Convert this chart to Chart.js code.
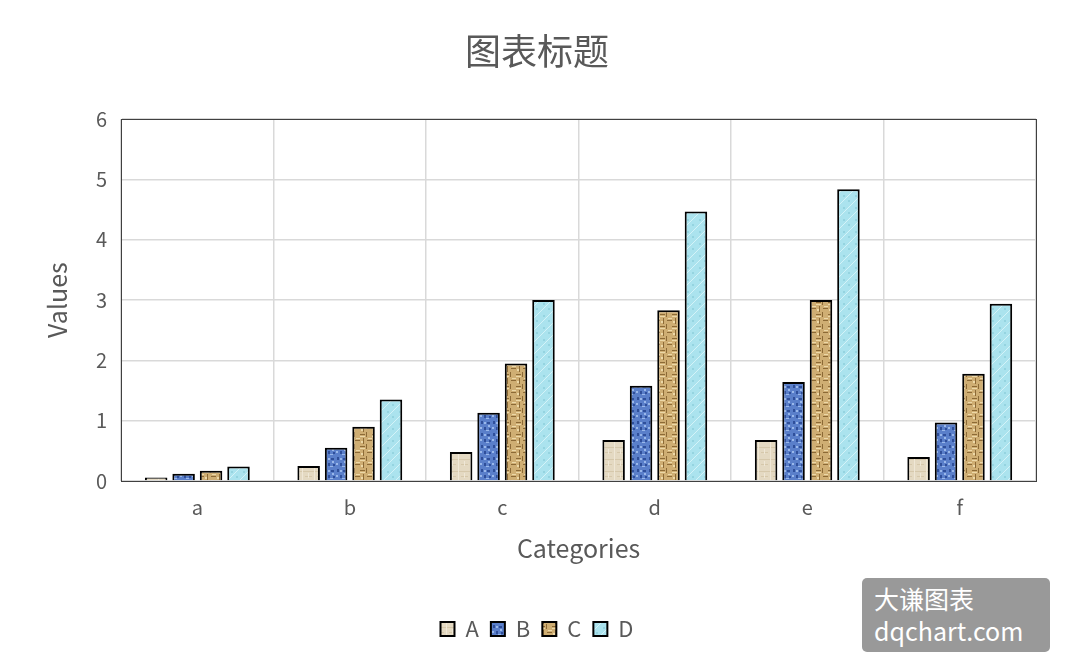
<!DOCTYPE html>
<html>
<head>
<meta charset="utf-8">
<script src="https://cdn.jsdelivr.net/npm/chart.js@4/dist/chart.umd.min.js"></script>
<style>
  body { margin: 0; background: #fff; }
  #wrap { position: relative; width: 1069px; height: 672px; }
  #mark {
    position: absolute; left: 862px; top: 578px; width: 188px; height: 74px;
    background: #999; border-radius: 5px; color: #fff;
    font-family: "Noto Sans CJK SC", "Noto Sans", sans-serif; font-size: 25px; line-height: 32px;
    padding: 4px 0 0 12px; box-sizing: border-box;
  }
</style>
</head>
<body>
<div id="wrap">
  <canvas id="chart" width="1069" height="672"></canvas>
  <div id="mark">大谦图表<br>dqchart.com</div>
</div>
<script>
// chart data
const categories = ['a', 'b', 'c', 'd', 'e', 'f']
const seriesNames = ['A', 'B', 'C', 'D']
const valuesA = [0.06, 0.25, 0.48, 0.68, 0.68, 0.40]
const valuesB = [0.12, 0.55, 1.13, 1.58, 1.64, 0.97]
const valuesC = [0.17, 0.90, 1.95, 2.83, 3.00, 1.78]
const valuesD = [0.24, 1.35, 3.00, 4.47, 4.84, 2.94]
const yTicks = [0, 1, 2, 3, 4, 5, 6]

// little texture tiles so the bars look like the picture fills
function makePattern(base, draw) {
  const c = document.createElement('canvas')
  c.width = 12; c.height = 12
  const g = c.getContext('2d')
  g.fillStyle = base
  g.fillRect(0, 0, 12, 12)
  draw(g)
  return g.createPattern(c, 'repeat')
}

const fillA = makePattern('#e4d9c2', g => {
  g.fillStyle = '#d6c8ab'
  g.fillRect(0, 3, 12, 1); g.fillRect(5, 8, 7, 1)
  g.fillStyle = '#efe7d6'
  g.fillRect(2, 0, 1, 12); g.fillRect(8, 5, 1, 5)
})
const fillB = makePattern('#5a7fca', g => {
  g.fillStyle = '#2f4f9a'
  g.fillRect(1, 1, 2, 3); g.fillRect(7, 2, 3, 2); g.fillRect(4, 7, 2, 3); g.fillRect(9, 8, 2, 2)
  g.fillStyle = '#9ab8ea'
  g.fillRect(4, 2, 2, 2); g.fillRect(0, 7, 2, 2); g.fillRect(8, 5, 2, 2); g.fillRect(6, 10, 3, 1)
})
const fillC = makePattern('#cfae73', g => {
  g.fillStyle = '#8c6a36'
  g.fillRect(0, 2, 5, 1); g.fillRect(6, 0, 1, 5); g.fillRect(7, 8, 5, 1); g.fillRect(3, 6, 1, 6)
  g.fillStyle = '#ecd8a8'
  g.fillRect(0, 4, 5, 1); g.fillRect(8, 6, 4, 1); g.fillRect(1, 9, 2, 2)
})
const fillD = makePattern('#abe3ee', g => {
  g.strokeStyle = '#d4f3f8'
  g.lineWidth = 1
  g.beginPath(); g.moveTo(0, 12); g.lineTo(12, 0); g.stroke()
  g.fillStyle = '#95d4e0'
  g.fillRect(3, 3, 2, 2); g.fillRect(8, 8, 2, 2)
})

const fills = [fillA, fillB, fillC, fillD]
const seriesValues = [valuesA, valuesB, valuesC, valuesD]

// frame around the plot area (top + right sides too)
const plotFrame = {
  id: 'plotFrame',
  afterDraw(chart) {
    const a = chart.chartArea, ctx = chart.ctx
    ctx.save()
    ctx.strokeStyle = '#404040'
    ctx.lineWidth = 1
    ctx.strokeRect(Math.round(a.left) + 0.5, Math.round(a.top) + 0.5, Math.round(a.right - a.left), Math.round(a.bottom - a.top))
    ctx.restore()
  }
}

const grey = '#595959'
const font = '"Noto Sans CJK SC", "Noto Sans", sans-serif'

new Chart(document.getElementById('chart'), {
  type: 'bar',
  data: {
    labels: categories,
    datasets: seriesNames.map((name, i) => ({
      label: name,
      data: seriesValues[i],
      backgroundColor: fills[i],
      borderColor: '#000',
      borderWidth: 2,
      categoryPercentage: 0.72,
      barPercentage: 0.82
    }))
  },
  options: {
    responsive: false,
    animation: false,
    layout: { padding: { left: 38, right: 33, top: 30, bottom: 22 } },
    plugins: {
      title: {
        display: true,
        text: '图表标题',
        color: grey,
        font: { family: font, size: 36, weight: 'normal' },
        padding: { top: 0, bottom: 46 }
      },
      legend: {
        position: 'bottom',
        labels: {
          color: grey,
          font: { family: font, size: 22 },
          boxWidth: 14,
          boxHeight: 14,
          padding: 12
        }
      },
      tooltip: { enabled: false }
    },
    scales: {
      x: {
        grid: { color: '#d9d9d9', lineWidth: 1.5, offset: true, drawTicks: false },
        border: { color: '#404040' },
        ticks: { color: grey, font: { family: font, size: 20 }, padding: 14 },
        title: { display: true, text: 'Categories', color: grey, font: { family: font, size: 25 }, padding: { top: 0, bottom: 43 } }
      },
      y: {
        min: 0,
        max: 6,
        afterBuildTicks: s => { s.ticks = yTicks.map(v => ({ value: v })) },
        grid: { color: '#d9d9d9', lineWidth: 1.5, drawTicks: false },
        border: { color: '#404040' },
        ticks: { color: grey, font: { family: font, size: 20 }, padding: 14 },
        title: { display: true, text: 'Values', color: grey, font: { family: font, size: 25 }, padding: { bottom: 10 } }
      }
    }
  },
  plugins: [plotFrame]
})
</script>
</body>
</html>
